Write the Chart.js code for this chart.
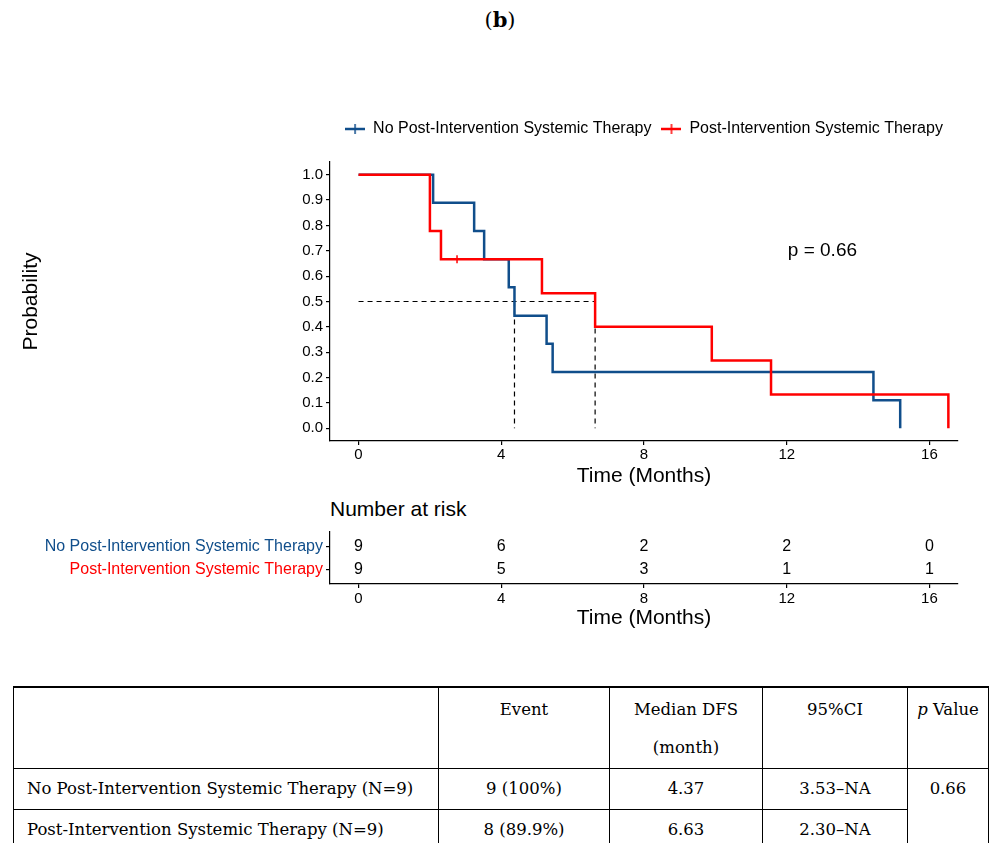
<!DOCTYPE html>
<html>
<head>
<meta charset="utf-8">
<script src="https://cdn.jsdelivr.net/npm/chart.js@4.4.0/dist/chart.umd.min.js"></script>
<style>
  body { margin: 0; background: #fff; width: 1000px; height: 843px; overflow: hidden; position: relative; }
  #title { position: absolute; top: 7px; left: 0; width: 1000px; text-align: center; font: 21px 'DejaVu Serif', serif; }
  #kmWrap { position: absolute; left: 0; top: 90px; width: 1000px; height: 400px; }
  #riskWrap { position: absolute; left: 0; top: 490px; width: 1000px; height: 150px; }
  #riskTitle { position: absolute; left: 330px; top: 497px; font: 21px 'Liberation Sans', Arial, sans-serif; }
  table { position: absolute; left: 13px; top: 686px; width: 975px; border-collapse: collapse; table-layout: fixed;
          font: 16.5px 'DejaVu Serif', serif; border-top: 2px solid #000; }
  td { border: 1px solid #000; text-align: center; padding: 0; }
  tr.hd td { height: 81px; vertical-align: top; line-height: 38px; padding-top: 3px; box-sizing: border-box; }
  tr.bd td { height: 40px; vertical-align: middle; }
  tr.bd td.l { text-align: left; padding-left: 13px; }
  tr.bd td.pv { vertical-align: top; line-height: 40px; }
</style>
</head>
<body>
<div id="title">(<b>b</b>)</div>
<div id="kmWrap"><canvas id="km"></canvas></div>
<div id="riskTitle">Number at risk</div>
<div id="riskWrap"><canvas id="risk"></canvas></div>
<table>
  <colgroup><col style="width:425px"><col style="width:171px"><col style="width:153px"><col style="width:145px"><col style="width:81px"></colgroup>
  <tr class="hd"><td></td><td>Event</td><td>Median DFS<br>(month)</td><td>95%CI</td><td><i>p</i> Value</td></tr>
  <tr class="bd"><td class="l">No Post-Intervention Systemic Therapy (N=9)</td><td>9 (100%)</td><td>4.37</td><td>3.53–NA</td><td class="pv" rowspan="2">0.66</td></tr>
  <tr class="bd"><td class="l">Post-Intervention Systemic Therapy (N=9)</td><td>8 (89.9%)</td><td>6.63</td><td>2.30–NA</td></tr>
</table>
<script>
// group names / colours
var groupNames = ['No Post-Intervention Systemic Therapy', 'Post-Intervention Systemic Therapy'];
var groupColors = ['#104E8B', '#FF0000'];

// Kaplan-Meier steps (time in months, survival probability)
var noTherapyTimes = [0, 2.09, 3.24, 3.52, 4.21, 4.37, 5.27, 5.44, 14.43, 15.18];
var noTherapySurv  = [1, 0.889, 0.778, 0.667, 0.556, 0.444, 0.333, 0.222, 0.111, 0];
var therapyTimes   = [0, 2.0, 2.31, 5.14, 6.63, 9.90, 11.56, 16.53];
var therapySurv    = [1, 0.778, 0.667, 0.533, 0.4, 0.267, 0.133, 0];
var therapyCensorTimes = [2.76];
var therapyCensorSurv  = [0.667];
var medianTimes = [4.37, 6.63];
var pValueText = 'p = 0.66';

// ticks
var xTicks = [0, 4, 8, 12, 16];
var yTicks = [0, 0.1, 0.2, 0.3, 0.4, 0.5, 0.6, 0.7, 0.8, 0.9, 1.0];

// number at risk at xTicks
var riskNoTherapy = [9, 6, 2, 2, 0];
var riskTherapy   = [9, 5, 3, 1, 1];

Chart.defaults.font.family = "'Liberation Sans', Arial, sans-serif";
Chart.defaults.font.size = 15;
Chart.defaults.color = '#000';
Chart.defaults.animation = false;

function legendMark(color) {
  var c = document.createElement('canvas');
  c.width = 20; c.height = 14;
  var g = c.getContext('2d');
  g.strokeStyle = color; g.lineWidth = 2.5;
  g.beginPath(); g.moveTo(0, 7); g.lineTo(20, 7); g.stroke();
  g.lineWidth = 1.5;
  g.beginPath(); g.moveTo(10, 2); g.lineTo(10, 12); g.stroke();
  return c;
}

function pts(xs, ys) {
  return xs.map(function (t, i) { return { x: t, y: ys[i] }; });
}

var axisLine = { display: true, color: '#000', width: 1.2 };
var tickGrid = { drawOnChartArea: false, drawTicks: true, tickLength: 4, color: '#000', lineWidth: 1.2 };

var pLabel = {
  id: 'pLabel',
  afterDatasetsDraw: function (chart) {
    var ctx = chart.ctx, x = chart.scales.x, y = chart.scales.y;
    ctx.save();
    ctx.font = "19px 'Liberation Sans', Arial";
    ctx.fillStyle = '#000';
    ctx.textAlign = 'center';
    ctx.textBaseline = 'middle';
    ctx.fillText(pValueText, x.getPixelForValue(13), y.getPixelForValue(0.7));
    ctx.restore();
  }
};

var maxMedian = Math.max.apply(null, medianTimes);
var dashSets = [{
  data: [{ x: 0, y: 0.5 }, { x: maxMedian, y: 0.5 }]
}].concat(medianTimes.map(function (m) {
  return { data: [{ x: m, y: 0.5 }, { x: m, y: 0 }] };
})).map(function (d) {
  d.borderColor = '#000'; d.borderWidth = 1.2; d.borderDash = [5, 4];
  d.pointRadius = 0; d.order = 2; d.label = 'median';
  return d;
});

new Chart(document.getElementById('km'), {
  type: 'line',
  data: {
    datasets: [{
      label: groupNames[0],
      data: pts(noTherapyTimes, noTherapySurv),
      borderColor: groupColors[0],
      borderWidth: 2.5,
      stepped: true,
      pointRadius: 0,
      pointStyle: legendMark(groupColors[0]),
      order: 1
    }, {
      label: groupNames[1],
      data: pts(therapyTimes, therapySurv),
      borderColor: groupColors[1],
      borderWidth: 2.5,
      stepped: true,
      pointRadius: 0,
      pointStyle: legendMark(groupColors[1]),
      order: 0
    }, {
      label: 'censor',
      data: pts(therapyCensorTimes, therapyCensorSurv),
      showLine: false,
      pointStyle: 'line',
      rotation: 90,
      pointRadius: 4,
      borderColor: groupColors[1],
      borderWidth: 1.5,
      order: 0
    }].concat(dashSets)
  },
  options: {
    responsive: true,
    maintainAspectRatio: false,
    layout: { padding: { top: 21, right: 42, left: 0, bottom: 0 } },
    plugins: {
      tooltip: { enabled: false },
      // empty title only used as a gap between legend and plot
      title: { display: true, text: '', weight: 100, fullSize: false, font: { size: 10, lineHeight: 1 }, padding: { top: 0, bottom: 5 } },
      legend: {
        position: 'top',
        fullSize: false,
        weight: 3000,
        labels: {
          usePointStyle: true,
          pointStyleWidth: 20,
          boxHeight: 14,
          padding: 10,
          font: { size: 16 },
          filter: function (item) { return item.datasetIndex < 2; },
          sort: function (a, b) { return a.datasetIndex - b.datasetIndex; }
        }
      }
    },
    scales: {
      x: {
        type: 'linear',
        min: -0.8, max: 16.8,
        border: axisLine,
        grid: tickGrid,
        ticks: { padding: 1 },
        afterBuildTicks: function (s) { s.ticks = xTicks.map(function (v) { return { value: v }; }); },
        afterFit: function (s) { s.height = 49; },
        title: { display: true, text: 'Time (Months)', font: { size: 21 }, padding: { top: 0, bottom: 1 } }
      },
      y: {
        min: -0.05, max: 1.05,
        border: axisLine,
        grid: tickGrid,
        ticks: { padding: 3, callback: function (v) { return v.toFixed(1); } },
        afterBuildTicks: function (s) { s.ticks = yTicks.map(function (v) { return { value: v }; }); },
        afterFit: function (s) { s.width = 330; },
        title: { display: true, text: 'Probability', font: { size: 21 }, padding: { top: 19, bottom: 0 } }
      }
    }
  },
  plugins: [pLabel]
});

var riskNumbers = {
  id: 'riskNumbers',
  afterDatasetsDraw: function (chart) {
    var ctx = chart.ctx;
    ctx.save();
    ctx.font = "16px 'Liberation Sans', Arial";
    ctx.fillStyle = '#000';
    ctx.textAlign = 'center';
    ctx.textBaseline = 'middle';
    chart.data.datasets.forEach(function (ds, i) {
      chart.getDatasetMeta(i).data.forEach(function (p, j) {
        ctx.fillText(String(ds.counts[j]), p.x, p.y);
      });
    });
    ctx.restore();
  }
};

function riskPts(row) {
  return xTicks.map(function (t) { return { x: t, y: row }; });
}

new Chart(document.getElementById('risk'), {
  type: 'scatter',
  data: {
    datasets: [
      { label: groupNames[0], data: riskPts(1), counts: riskNoTherapy, pointRadius: 0 },
      { label: groupNames[1], data: riskPts(2), counts: riskTherapy, pointRadius: 0 }
    ]
  },
  options: {
    responsive: true,
    maintainAspectRatio: false,
    layout: { padding: { top: 42, right: 42, left: 0, bottom: 0 } },
    plugins: { legend: { display: false }, tooltip: { enabled: false } },
    scales: {
      x: {
        type: 'linear',
        min: -0.8, max: 16.8,
        border: axisLine,
        grid: tickGrid,
        ticks: { padding: 2 },
        afterBuildTicks: function (s) { s.ticks = xTicks.map(function (v) { return { value: v }; }); },
        afterFit: function (s) { s.height = 56; },
        title: { display: true, text: 'Time (Months)', font: { size: 21 }, padding: { top: 0, bottom: 9 } }
      },
      y: {
        type: 'linear',
        min: 0.4, max: 2.6,
        reverse: true,
        border: axisLine,
        grid: tickGrid,
        ticks: {
          padding: 3,
          font: { size: 16 },
          color: function (c) { return groupColors[c.tick.value - 1]; },
          callback: function (v) { return groupNames[v - 1]; }
        },
        afterBuildTicks: function (s) { s.ticks = [{ value: 1 }, { value: 2 }]; },
        afterFit: function (s) { s.width = 330; }
      }
    }
  },
  plugins: [riskNumbers]
});
</script>
</body>
</html>
